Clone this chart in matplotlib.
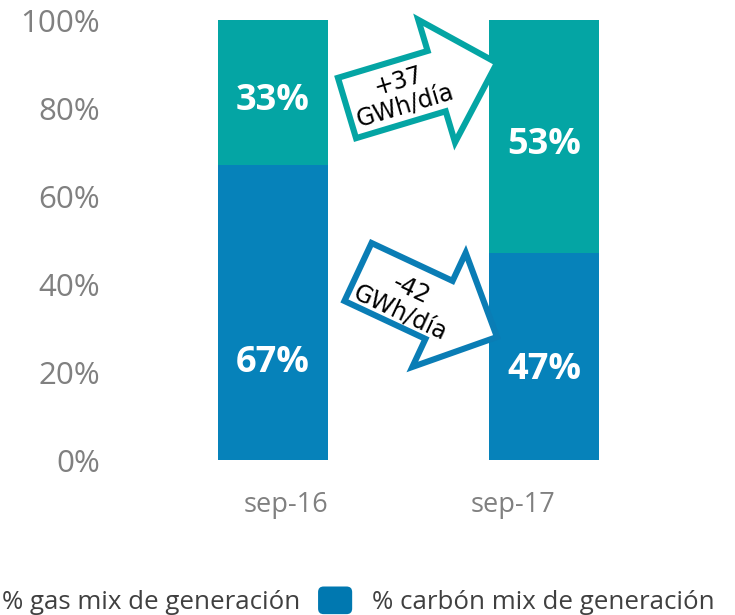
import numpy as np
import matplotlib
matplotlib.use('Agg')
import matplotlib.pyplot as plt
from matplotlib.patches import Polygon, Patch, FancyBboxPatch
from matplotlib.legend_handler import HandlerPatch
from matplotlib.transforms import IdentityTransform, ScaledTranslation

# Datos
categorias = ['sep-16', 'sep-17']
carbon = [67, 47]
gas = [33, 53]
series = ['% gas mix de generación', '% carbón mix de generación']
flechas = ['+37\nGWh/día', '-42\nGWh/día']

# Colores
col_gas = '#04A5A4'
col_carbon = '#0682BA'
col_gris = '#808080'

W, H = 735, 615
fig = plt.figure(figsize=(W / 100, H / 100), dpi=100)
ax = fig.add_axes([137.5 / W, 155 / H, 542 / W, 440 / H])

x = np.arange(len(categorias))
ancho = 0.406
ax.bar(x, carbon, ancho, color=col_carbon)
ax.bar(x, gas, ancho, bottom=carbon, color=col_gas)

ax.set_xlim(-0.5, 1.5)
ax.set_ylim(0, 100)
ax.set_yticks(np.arange(0, 101, 20))
ax.set_yticklabels([f'{v}%' for v in range(0, 101, 20)])
ax.set_xticks(x)
ax.set_xticklabels(categorias)
for s in ax.spines.values():
    s.set_visible(False)
ax.tick_params(axis='y', length=0, pad=27, labelsize=22.5, labelcolor=col_gris)
ax.tick_params(axis='x', length=0, pad=22, labelsize=19.5, labelcolor=col_gris)
for t in ax.get_xticklabels() + ax.get_yticklabels():
    t.set_family('Open Sans')

# las etiquetas del eje x no quedan centradas bajo las barras en el original
desp_x = [13, -31]
for t, d in zip(ax.get_xticklabels(), desp_x):
    t.set_transform(t.get_transform() + ScaledTranslation(d / 100, 0, fig.dpi_scale_trans))

# Etiquetas de las barras (desplazadas un poco respecto al centro del segmento)
desp_carbon = [-11.5, -3]
desp_gas = [-2, -2]
for i in range(len(categorias)):
    ax.text(x[i], carbon[i] / 2 + desp_carbon[i], f'{carbon[i]}%', ha='center', va='center',
            color='white', fontsize=26, fontweight='bold', family='Open Sans')
    ax.text(x[i], carbon[i] + gas[i] / 2 + desp_gas[i], f'{gas[i]}%', ha='center', va='center',
            color='white', fontsize=26, fontweight='bold', family='Open Sans')


# Flechas (coordenadas en píxeles de la imagen, y hacia abajo)
def flecha(cola, punta, media_cuerpo, media_cabeza, largo_cabeza, color, texto, centro_txt):
    cola = np.array(cola, float)
    punta = np.array(punta, float)
    L = np.linalg.norm(punta - cola)
    u = (punta - cola) / L
    n = np.array([u[1], -u[0]])
    b = L - largo_cabeza
    local = [(0, media_cuerpo), (b, media_cuerpo), (b, media_cabeza), (L, 0),
             (b, -media_cabeza), (b, -media_cuerpo), (0, -media_cuerpo)]
    pts = [cola + a * u + c * n for a, c in local]
    pts = [(px, H - py) for px, py in pts]
    fig.patches.append(Polygon(pts, closed=True, facecolor='white', edgecolor=color,
                               linewidth=4.4, joinstyle='miter', transform=IdentityTransform(),
                               figure=fig))
    ang = np.degrees(np.arctan2(-u[1], u[0]))
    fig.text(centro_txt[0] / W, 1 - centro_txt[1] / H, texto, ha='center', va='center',
             rotation=ang, rotation_mode='anchor', fontsize=17, family='DejaVu Sans',
             linespacing=1.05, color='black')


flecha((347, 108), (497, 63), 31.5, 64, 63, col_gas, flechas[0], (402, 93))
flecha((358, 272), (497, 337), 32, 63, 64, '#0A7DB5', flechas[1], (406, 301))


# Leyenda con cuadrados redondeados
class HandlerRedondo(HandlerPatch):
    def create_artists(self, legend, orig_handle, xdescent, ydescent, width, height, fontsize, trans):
        p = FancyBboxPatch((-xdescent, -ydescent), width, height,
                           boxstyle='round,pad=0,rounding_size=4',
                           facecolor=orig_handle.get_facecolor(), edgecolor='none', transform=trans)
        return [p]


handles = [Patch(color=col_gas), Patch(color='#0078B0')]
leg = fig.legend(handles, series, loc='lower left', bbox_to_anchor=(-52 / W, 0.0), ncol=2,
                 frameon=False, borderpad=0, borderaxespad=0, handlelength=1.32, handleheight=1.27,
                 handletextpad=0.76, columnspacing=0.7, prop={'family': 'Open Sans', 'size': 18.6},
                 handler_map={Patch: HandlerRedondo()})
for t in leg.get_texts():
    t.set_color('#404040')

plt.savefig('out.png', dpi=100)
plt.close()
